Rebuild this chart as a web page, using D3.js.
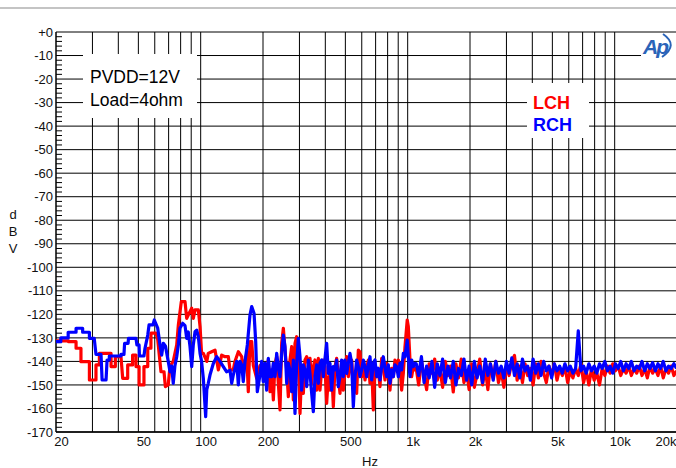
<!DOCTYPE html>
<html><head><meta charset="utf-8">
<script src="https://cdn.jsdelivr.net/npm/d3@7"></script>
<style>
html,body{margin:0;padding:0;background:#fff;}
svg{display:block;font-family:"Liberation Sans",Arial,Helvetica,sans-serif;}
</style>
</head><body>
<svg id="chart" width="676" height="468"></svg>
<script>
// ---- axis ticks ----
const xTickVals = [20, 50, 100, 200, 500, 1000, 2000, 5000, 10000, 20000];
const xTickLabels = ["20", "50", "100", "200", "500", "1k", "2k", "5k", "10k", "20k"];
const xGridVals = [30, 40, 50, 60, 70, 80, 90, 100, 200, 300, 400, 500, 600, 700, 800, 900,
  1000, 2000, 3000, 4000, 5000, 6000, 7000, 8000, 9000, 10000, 20000];
const yTickVals = [0, -10, -20, -30, -40, -50, -60, -70, -80, -90, -100, -110, -120, -130, -140, -150, -160, -170];

// ---- low-frequency bins [Hz, dBV] ----
const lchLow = [[20,-131.3],[23,-131.3],[23,-131.6],[25,-131.6],[25,-134.4],[26.4,-134.4],[26.4,-140.1],[29,-140.1],[29,-147.9],[31.2,-147.9],[31.2,-141.5],[32.4,-141.5],[32.4,-136.6],[36.9,-136.6],[36.9,-142.2],[38.7,-142.2],[38.7,-138],[41.2,-138],[42,-147.2],[44.4,-147.2],[44.4,-141.5],[46.9,-141.5],[46.9,-137.3],[48.7,-137.3],[48.7,-142.2],[50.4,-142.2],[50.4,-150],[53.2,-150],[53.2,-142.2],[55.5,-142.2],[55.5,-134.4],[57.5,-134.4],[57.5,-128],[60.8,-128],[62,-130.6],[64.3,-144.4],[66.5,-144.4],[67.5,-150.7],[69.7,-150],[71.1,-142],[73.7,-140],[76.6,-133],[78,-124.5],[80.6,-114.6],[84,-114.6],[85.6,-121.7],[87.1,-120.3],[90.5,-117.4],[92.1,-121.7],[93.9,-118.1],[97.4,-118.1],[99.3,-125.2],[101,-136.6],[103,-136.6],[107,-140],[108.8,-136.6],[113,-135.9],[117.3,-135.2],[119.5,-139.4],[121.7,-143.6],[126.3,-137.3],[131,-138],[136,-138],[138.6,-143.6],[143.7,-143.6],[146.4,-140],[152,-135.9],[157.8,-138],[160.6,-145.8],[163.7,-140],[166.9,-136.6],[169.8,-152.9],[173,-131.6],[176.4,-131.6],[179.6,-141.8],[186.5,-147.2],[193.4,-141.8],[200.6,-144.4]];

const rchLow = [[20,-131.6],[21.1,-131.6],[21.1,-130],[22.9,-130],[22.9,-127.6],[25,-127.6],[25,-125.9],[26.9,-125.9],[26.9,-127.6],[29,-127.6],[29,-130.2],[30.6,-130.2],[31.2,-137],[33,-137],[33.4,-147.9],[34.9,-147.9],[35.3,-139.4],[36.2,-139.4],[36.2,-137.7],[41.2,-137.7],[41.2,-137],[42.6,-137],[42.9,-132.3],[44.6,-132.3],[44.8,-130.2],[48.7,-130.2],[49.2,-133],[50.4,-133],[50.6,-137.7],[53.2,-137.7],[53.8,-134.5],[55.5,-128.8],[56.3,-124.5],[58.8,-124.5],[59.7,-122.4],[62,-125.9],[63.6,-133],[64.8,-137.3],[66,-132.3],[67.6,-133.5],[69.7,-140],[71.1,-144.4],[72.4,-142],[73.7,-149.3],[75.1,-141.8],[76.6,-138],[78,-133],[79.4,-125.9],[81.9,-123.8],[84,-124.8],[85.6,-130.2],[87.1,-127.5],[88.8,-133.7],[90.5,-142.2],[92.1,-133],[93.9,-127.4],[95.7,-126.7],[97.4,-129.5],[99.3,-136.6],[101,-140],[103,-147.2],[105.7,-163.5],[107,-152],[108.8,-149.3],[110.9,-145.8],[115,-141],[119.5,-138],[124,-140],[128.6,-142.2],[133.5,-144.4],[138.6,-143.8],[141.2,-149.3],[143.7,-145.8],[149.3,-140],[152,-150],[154.9,-140],[157.8,-141.5],[160.6,-148.6],[163.7,-140],[168,-133],[173,-120.3],[176.4,-116.7],[181,-119.5],[184.4,-131.6],[187.7,-152.9],[193.4,-145.8],[197,-140],[200.6,-148.6]];

// ---- mid band, shared frequency points ----
const midFreq = [204.5,208.3,212.2,216.2,220.3,224.4,228.6,232.9,237.2,241.7,246.2,250.8,255.5,260.3,265.1,270.1,275.1,280.3,285.5,290.9,296.3,301.9,307.5,313.3,319.1,325.1,331.2,337.4,343.7,350.1,356.6,363.3,370.1,377,384.1,391.3,398.6,406,413.6,421.4,429.3,437.3,445.5,453.8,462.3,471,479.8,488.7,497.9,507.2,516.7,526.3,536.2,546.2,556.4,566.9,577.5,588.3,599.3,610.5,622,633.6,645.5,657.5,669.8,682.3,695.1,708.1,721.3,734.8,748.6,762.6,776.9,791.4,806.2,821.3,836.7,852.3,868.3,884.5,901.1,917.9,935.1,952.6,970.4,995,1007,1026,1045,1065,1085];
const lchMid = [-144.4,-146.5,-139.4,-152.9,-143.6,-156.4,-140.8,-138,-149.3,-160.6,
  -132.3,-125.9,-135.2,-143.6,-155,-139.4,-133.7,-156.4,-132.3,-129.5,
  -136.6,-162.1,-143.6,-153.6,-139.4,-138,-140.8,-138.7,-149.3,-142.2,
  -139.4,-152.2,-138.7,-152.2,-143.6,-139.4,-142.2,-157.8,-146.5,-152.2,
  -142.9,-159.2,-142.2,-138.7,-146.5,-153.6,-140.8,-152.2,-143.6,-138,
  -146.5,-142.9,-139.4,-150.7,-145.1,-153.6,-135.2,-135.9,-146.5,-140.8,
  -147.9,-142.9,-139.4,-149.3,-141.5,-160.6,-142.2,-146.5,-143.6,-150.7,
  -138.7,-141.5,-147.9,-140.8,-144.4,-152.2,-142.9,-146.5,-139.4,-143.6,
  -139.4,-142.2,-152.2,-145.1,-133.7,-122.4,-125.2,-139.4,-146.5,-142.2,
  -143.6];
const rchMid = [-140.8,-152.2,-138.7,-146.5,-146.5,-140.8,-146.5,-136.6,-142.9,-146.5,
  -136.6,-128.8,-133.7,-149.3,-140.8,-143.6,-152.9,-139.4,-162.1,-140.8,
  -130.2,-138,-152.2,-141.5,-143.6,-150.7,-139.4,-145.1,-153.6,-161.4,
  -146.5,-141.5,-149.3,-140.8,-139.4,-146.5,-138.7,-132.3,-145.1,-140.8,
  -152.2,-142.2,-143.6,-139.4,-150.7,-146.5,-139.4,-146.5,-139.4,-145.1,
  -140.8,-136.6,-140.8,-159.2,-146.5,-139.4,-142.2,-146.5,-143.6,-139.4,
  -142.2,-146.5,-141.5,-138,-147.9,-140.8,-139.4,-146.5,-142.9,-147.9,
  -142.2,-138,-142.9,-146.5,-141.5,-149.3,-143.6,-146.5,-141.5,-142.2,
  -146.5,-140.8,-143.6,-136.6,-138,-130.9,-138,-146.5,-139.4,-142.2,
  -140.8];

// ---- high band, shared frequency points ----
const hiFreq = [1100,1130,1165,1200,1235,1270,1310,1350,1390,1430,1475,1520,1565,1610,1660,1710,1760,1815,1870,1925,
  1980,2040,2100,2165,2230,2300,2370,2440,2510,2590,2665,2745,2830,2915,3000,3090,3185,3280,3380,3480,
  3585,3690,3800,3915,4035,4155,4280,4410,4540,4675,4815,4960,5110,5265,5420,5585,5750,5925,6100,6285,
  6475,6670,6870,7075,7285,7505,7730,7960,8200,8445,8700,8960,9230,9505,9790,10085,10390,10700,11020,11350,
  11690,12040,12400,12775,13155,13550,13960,14375,14805,15250,15710,16180,16665,17165,17680,18210,18755,19320,19900];
const lchHi = [-143,-150,-140,-146,-152,-141,-145,-139,-148,-143,-151,-140,-146,-142,-153,-141,-147,-139,-149,-144,
  -152,-141,-151,-145,-139,-150,-143,-152,-141,-147,-140,-149,-144,-151,-142,-146,-140,-137.5,-148,-142,
  -149,-141,-146,-143,-150,-141,-147,-140,-145,-149,-142,-146,-141,-148,-143,-146,-142,-149,-144,-147,
  -143,-146,-141,-149,-144,-150,-143,-148,-145,-150,-143,-146,-142,-145,-141,-144,-142,-146,-143,-145,
  -142,-146,-143,-145,-142,-146,-143,-147,-142,-145,-143,-146,-142,-147,-143,-145,-142,-146,-144];
const rchHi = [-141,-146,-138,-149,-142,-147,-140,-151,-141,-146,-139,-149,-142,-147,-140,-150,-143,-146,-139,-148,
  -142,-150,-140,-147,-142,-149,-139,-146,-141,-148,-140,-145,-142,-147,-140,-145,-138.5,-146,-141,-147,
  -139,-144,-142,-148,-139,-145,-141,-146,-140,-144,-142,-147,-141,-144,-142,-145,-141,-144,-142,-145,
  -143,-127,-144,-142,-145,-141,-144,-142,-145,-141,-143,-140,-144,-142,-145,-141,-143,-140,-144,-141,
  -143,-140,-144,-142,-143,-140,-144,-141,-143,-140.5,-144,-141,-143,-140,-144,-142,-143,-141,-143];

// assemble full traces
const lch = lchLow.concat(midFreq.map((f, i) => [f, lchMid[i]]), hiFreq.map((f, i) => [f, lchHi[i]]));
const rch = rchLow.concat(midFreq.map((f, i) => [f, rchMid[i]]), hiFreq.map((f, i) => [f, rchHi[i]]));

const svg = d3.select("#chart");
const x = d3.scaleLog().domain([20, 20000]).range([56, 677]);
const y = d3.scaleLinear().domain([-170, 0]).range([432, 32]);

// header rule
svg.append("line").attr("x1", 0).attr("x2", 676).attr("y1", 8).attr("y2", 8)
  .attr("stroke", "#c4c4c4").attr("stroke-width", 2);

// grid
const grid = svg.append("g").attr("stroke", "#000").attr("stroke-width", 1);
grid.selectAll("line.v").data(xGridVals).join("line").attr("class", "v")
  .attr("x1", d => x(d)).attr("x2", d => x(d)).attr("y1", y(0)).attr("y2", y(-170));
grid.selectAll("line.h").data(yTickVals).join("line").attr("class", "h")
  .attr("x1", x(20)).attr("x2", 677).attr("y1", d => y(d)).attr("y2", d => y(d));
grid.append("line").attr("x1", x(20)).attr("x2", x(20)).attr("y1", y(0)).attr("y2", y(-170)).attr("stroke-width", 1.5);
grid.append("line").attr("x1", x(20)).attr("x2", 677).attr("y1", y(-170)).attr("y2", y(-170)).attr("stroke-width", 1.5);

// minor dB ticks
const minor = d3.range(-168, 0, 2).filter(v => v % 10 !== 0);
grid.selectAll("line.m").data(minor).join("line").attr("class", "m")
  .attr("x1", x(20)).attr("x2", x(20) + 6).attr("y1", d => y(d)).attr("y2", d => y(d));

// axes labels
const yAxis = d3.axisLeft(y).tickValues(yTickVals).tickFormat(d => d === 0 ? "+0" : String(d))
  .tickSize(0).tickPadding(3);
const gy = svg.append("g").attr("transform", `translate(${x(20)},0)`).call(yAxis);
gy.select(".domain").remove();
gy.selectAll("text").attr("font-size", 13).attr("fill", "#111")
  .attr("font-family", "'Liberation Sans', Arial, sans-serif");

const xAxis = d3.axisBottom(x).tickValues(xTickVals).tickFormat((d, i) => xTickLabels[i])
  .tickSize(0).tickPadding(5);
const gx = svg.append("g").attr("transform", `translate(0,${y(-170)})`).call(xAxis);
gx.select(".domain").remove();
gx.selectAll("text").attr("font-size", 13).attr("fill", "#111").attr("dx", 5)
  .attr("font-family", "'Liberation Sans', Arial, sans-serif");
// last label sits against the right edge
gx.selectAll("text").filter(d => d === 20000).attr("text-anchor", "end").attr("dx", -1);

svg.append("text").attr("x", 370).attr("y", 466).attr("text-anchor", "middle")
  .attr("font-size", 13).attr("fill", "#111").text("Hz");
["d", "B", "V"].forEach((c, i) => {
  svg.append("text").attr("x", 13).attr("y", 219 + i * 17).attr("text-anchor", "middle")
    .attr("font-size", 13).attr("fill", "#111").text(c);
});

// traces
svg.append("clipPath").attr("id", "plotClip").append("rect")
  .attr("x", x(20)).attr("y", y(0)).attr("width", 677 - x(20)).attr("height", y(-170) - y(0));
const line = d3.line().x(d => x(d[0])).y(d => y(d[1]));
const traces = svg.append("g").attr("clip-path", "url(#plotClip)")
  .attr("fill", "none").attr("stroke-width", 3.2).attr("stroke-linejoin", "round");
traces.append("path").datum(lch).attr("stroke", "#ff0000").attr("d", line);
traces.append("path").datum(rch).attr("stroke", "#0000ff").attr("d", line);

// condition note
svg.append("rect").attr("x", 83).attr("y", 54).attr("width", 114).attr("height", 64).attr("fill", "#fff");
svg.append("text").attr("x", 90).attr("y", 83).attr("font-size", 17.5).attr("fill", "#000").text("PVDD=12V");
svg.append("text").attr("x", 90).attr("y", 106).attr("font-size", 17.5).attr("fill", "#000").text("Load=4ohm");

// legend
svg.append("rect").attr("x", 527).attr("y", 83).attr("width", 62).attr("height", 55).attr("fill", "#fff");
svg.append("text").attr("x", 533).attr("y", 109).attr("font-size", 18).attr("font-weight", "bold")
  .attr("fill", "#ff0000").text("LCH");
svg.append("text").attr("x", 533).attr("y", 131).attr("font-size", 18).attr("font-weight", "bold")
  .attr("fill", "#0000ff").text("RCH");

// Ap mark
const logo = svg.append("g");
logo.append("rect").attr("x", 641).attr("y", 33).attr("width", 35).attr("height", 25).attr("fill", "#fff");
logo.append("text").attr("x", 643).attr("y", 54).attr("font-size", 21).attr("font-style", "italic")
  .attr("font-weight", "bold").attr("fill", "#2a63b8").attr("letter-spacing", -2).text("Ap");
logo.append("path").attr("d", "M663,34 Q679,45 662,57").attr("fill", "none")
  .attr("stroke", "#2a63b8").attr("stroke-width", 2);
</script>
</body></html>
